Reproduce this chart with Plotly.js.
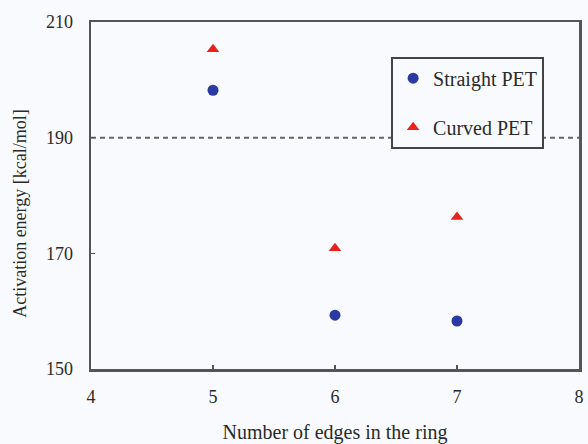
<!DOCTYPE html>
<html><head><meta charset="utf-8">
<script src="https://cdn.plot.ly/plotly-3.0.1.min.js"></script>
<style>body{margin:0;background:#fff}#c{width:588px;height:444px}</style>
</head><body><div id="c"></div>
<script>
const edges = [5, 6, 7];
const straightPET = [198.2, 159.3, 158.3];
const curvedPET = [205.3, 170.9, 176.3];
const thresholdEnergy = 190;
const xTicks = [4, 5, 6, 7, 8];
const yTicks = [150, 170, 190, 210];

const fam = 'Liberation Serif, Times New Roman, serif';
const tickFont = {family: fam, color: '#2a2a2a', size: 18};
const data = [
  {x: edges, y: straightPET, name: 'Straight PET', type: 'scatter', mode: 'markers', legendgroup: 'a',
   marker: {symbol: 'circle', size: 11, color: '#2b3aa0'}},
  {x: edges, y: curvedPET, name: 'Curved PET', type: 'scatter', mode: 'markers', legendgroup: 'b',
   marker: {symbol: 'triangle-up', size: 11, color: '#e8231c'}}
];
const axisCommon = {showgrid: false, zeroline: false, showline: true, linecolor: '#555', linewidth: 2.5,
  mirror: true, ticks: 'inside', ticklen: 4, tickcolor: '#555', tickwidth: 1.5, tickfont: tickFont,
  automargin: false, ticklabelstandoff: 10};
const layout = {
  width: 588, height: 444,
  margin: {l: 91, r: 9, t: 22, b: 75},
  paper_bgcolor: '#f9fafd', plot_bgcolor: '#f9fafd',
  font: {family: fam, color: '#2a2a2a', size: 18}, showlegend: true,
  legend: {x: 0.615, y: 0.9, xanchor: 'left', yanchor: 'top', bgcolor: '#f9fafd',
    bordercolor: '#444', borderwidth: 2, font: {family: fam, size: 20, color: '#2a2a2a'},
    tracegroupgap: 20, itemwidth: 30},
  xaxis: Object.assign({}, axisCommon, {range: [4, 8], tickvals: xTicks,
    title: {text: 'Number of edges in the ring', font: {family: fam, size: 20, color: '#2a2a2a'}, standoff: 22}}),
  yaxis: Object.assign({}, axisCommon, {range: [150, 210], tickvals: yTicks, ticklabelstandoff: 12}),
  annotations: [{text: 'Activation energy [kcal/mol]', textangle: -90, xref: 'paper', yref: 'paper',
    x: -0.1455, y: 0.45, xanchor: 'center', yanchor: 'middle', showarrow: false,
    font: {family: fam, size: 18, color: '#2a2a2a'}}],
  shapes: [{type: 'line', xref: 'paper', x0: 0, x1: 1, yref: 'y', y0: thresholdEnergy, y1: thresholdEnergy,
    line: {color: '#666', width: 2, dash: '5px,4px'}, layer: 'below'}]
};
Plotly.newPlot('c', data, layout, {displayModeBar: false, staticPlot: true});
</script></body></html>
